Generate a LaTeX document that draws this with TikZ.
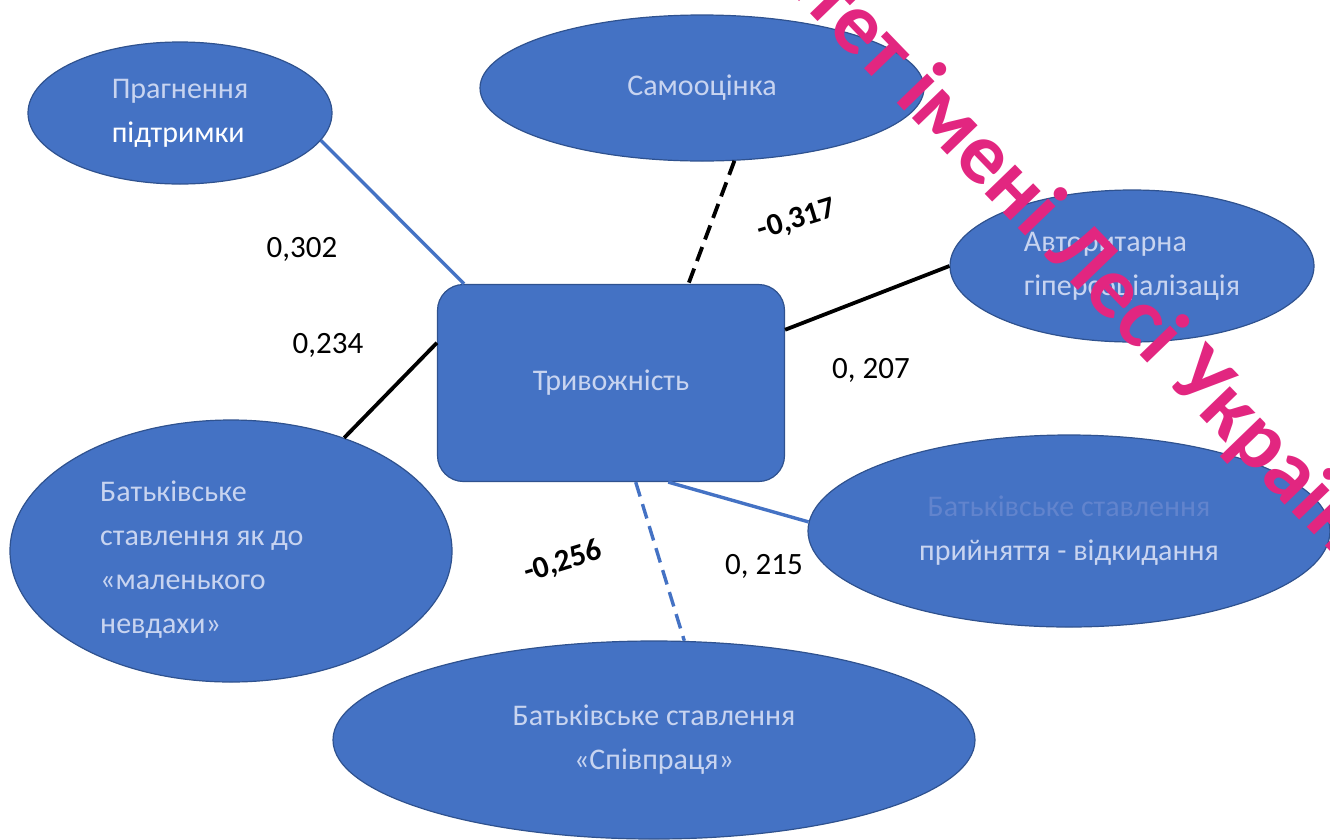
\documentclass[tikz,border=0pt]{standalone}
\usepackage{fontspec}
\setmainfont{Carlito}
\usetikzlibrary{shapes.geometric}
\definecolor{shapeblue}{HTML}{4472C4}
\definecolor{shapeedge}{HTML}{2F528F}
\definecolor{txtpale}{RGB}{200,212,240}
\definecolor{txtdim}{RGB}{98,132,205}
\definecolor{stamp}{RGB}{226,38,128}
\begin{document}
\begin{tikzpicture}[x=1pt,y=-1pt,
  factor/.style={ellipse,draw=shapeedge,line width=1.2pt,fill=shapeblue,inner sep=0pt,
    text=txtpale,align=left,font=\fontsize{30}{44}\selectfont},
  coef/.style={font=\fontsize{31}{36}\selectfont},
  blueline/.style={shapeblue,line width=3.4pt},
  blackline/.style={black,line width=3.8pt},
  dashline/.style={dash pattern=on 15pt off 8pt}]
\useasboundingbox (0,0) rectangle (1330,839);
\clip (0,0) rectangle (1330,839);
\node[factor,minimum width=304pt,minimum height=142pt] (supp) at (180,113) {Прагнення\\\textcolor{white}{підтримки}};
\node[factor,minimum width=444pt,minimum height=146pt] (self) at (702,88) {Самооцінка};
\node[factor,minimum width=364pt,minimum height=152pt] (auth) at (1132,266) {Авторитарна\\гіперсоціалізація};
\node[rectangle,rounded corners=26pt,draw=shapeedge,line width=1.2pt,fill=shapeblue,
  minimum width=347pt,minimum height=197pt,text=txtpale,font=\fontsize{30}{44}\selectfont] (anx) at (611,383) {Тривожність};
\node[factor,minimum width=442pt,minimum height=262pt] (loser) at (231,551) {};
\node[anchor=west,text=txtpale,align=left,inner sep=0pt,font=\fontsize{30}{44}\selectfont] (loserlbl) at (100,560) {Батьківське\\ставлення як до\\«маленького\\невдахи»};
\node[factor,minimum width=522pt,minimum height=192pt,align=center] (accept) at (1069,531) {\textcolor{txtdim}{Батьківське ставлення}\\прийняття - відкидання};
\node[factor,minimum width=642pt,minimum height=198pt,align=center] (coop) at (654,740) {Батьківське ставлення\\«Співпраця»};
\draw[blueline] (supp.-11) -- (anx.146.7);
\draw[blackline,dashline] (self.-66) -- (anx.52.6);
\draw[blackline] (auth.west) -- (anx.17);
\draw[blackline] (loser.45.8) -- (anx.167.5);
\draw[blueline] (accept.178) -- (anx.-60);
\draw[blueline,dashline] (anx.-76) -- (coop.73);
\node[coef] (c1) at (302,249) {0,302};
\node[coef] (c2) at (328,345) {0,234};
\node[coef,rotate=17] (c3) at (797,220) {\textbf{-0,317}};
\node[coef] (c4) at (871,370) {0, 207};
\node[coef,rotate=17] (c5) at (563,562) {\textbf{-0,256}};
\node[coef] (c6) at (764,566) {0, 215};
\node[anchor=base west,rotate=-46,text=stamp,inner sep=0pt,font=\fontsize{87}{90}\selectfont\bfseries] (mark) at (1043,254) {\llap{університет імені }Лесі Українки};
\end{tikzpicture}
\end{document}
